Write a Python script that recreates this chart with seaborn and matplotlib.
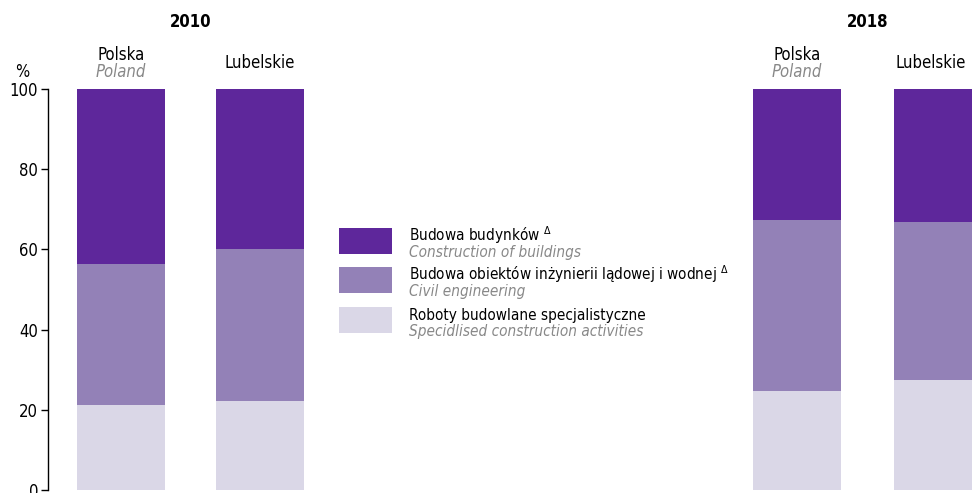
import matplotlib
matplotlib.use('Agg')
import matplotlib.pyplot as plt
import pandas as pd
import seaborn as sns
from matplotlib.patches import Rectangle

# dane (%)
regions = ['Polska', 'Lubelskie']
regions_en = ['Poland', '']
years = ['2010', '2018']
buildings_2010 = [43.6, 39.9]
civil_2010 = [35.2, 37.9]
special_2010 = [21.2, 22.2]
buildings_2018 = [32.7, 33.2]
civil_2018 = [42.6, 39.4]
special_2018 = [24.7, 27.4]

series_pl = ['Budowa budynków $^{\\Delta}$',
             'Budowa obiektów inżynierii lądowej i wodnej $^{\\Delta}$',
             'Roboty budowlane specjalistyczne']
series_en = ['Construction of buildings', 'Civil engineering',
             'Specidlised construction activities']
colors = ['#5e279b', '#9381b7', '#dad7e7']
grey = '#888888'

sns.set_theme(style='white')
plt.rcParams['font.family'] = ['DejaVu Sans']
plt.rcParams['font.stretch'] = 'condensed'
plt.rcParams['mathtext.fontset'] = 'dejavusans'
plt.rcParams['text.color'] = 'black'
plt.rcParams['ytick.color'] = 'black'

W, H = 972, 493
fig = plt.figure(figsize=(W / 100, H / 100), dpi=100)

def px(x0, x1, y0=89, y1=490):
    return [x0 / W, 1 - y1 / H, (x1 - x0) / W, (y1 - y0) / H]

ax1 = fig.add_axes(px(48, 330))
ax2 = fig.add_axes(px(700, 972))

data = {
    '2010': (buildings_2010, civil_2010, special_2010),
    '2018': (buildings_2018, civil_2018, special_2018),
}

for ax, year, xlim, width in [(ax1, '2010', (-0.525, 1.504), 0.633),
                              (ax2, '2018', (-0.688, 1.241), 0.624)]:
    b, c, s = data[year]
    df = pd.DataFrame({'region': regions, 'b': b, 'c': c, 's': s})
    df['top'] = df['s'] + df['c'] + df['b']
    df['mid'] = df['s'] + df['c']
    for col, colr in zip(['top', 'mid', 's'], colors):
        sns.barplot(data=df, x='region', y=col, color=colr, saturation=1,
                    width=width, linewidth=0, ax=ax)
    ax.set_xlim(*xlim)
    ax.set_ylim(0, 100)
    ax.set_xlabel('')
    ax.set_ylabel('')
    ax.set_xticks([])
    for sp in ['top', 'right', 'bottom']:
        ax.spines[sp].set_visible(False)
    ax.text(0.5, 116.7, year, ha='center', va='center', fontsize=12,
            fontweight='bold', clip_on=False)
    for i, (r, r_en) in enumerate(zip(regions, regions_en)):
        if r_en:
            ax.text(i, 108.6, r, ha='center', va='center', fontsize=12, clip_on=False)
            ax.text(i, 104.3, r_en, ha='center', va='center', fontsize=12,
                    style='italic', color=grey, clip_on=False)
        else:
            xi = i if year == '2010' else i - 0.05
            ax.text(xi, 106.6, r, ha='center', va='center', fontsize=12, clip_on=False)

ax1.spines['left'].set_color('black')
ax1.spines['left'].set_linewidth(1)
ax1.set_yticks(range(0, 101, 20))
ax1.tick_params(axis='y', left=True, length=5, width=1, color='black',
                labelsize=12, pad=2)
ax2.spines['left'].set_visible(False)
ax2.set_yticks([])

fig.text(22 / W, 1 - 72 / H, '%', ha='center', va='center', fontsize=12)

# legenda
for k in range(3):
    y_top = 228 + 39.3 * k
    fig.patches.append(Rectangle((339 / W, 1 - (y_top + 26) / H), 53 / W, 26 / H,
                                 transform=fig.transFigure, color=colors[k], lw=0))
    fig.text(409 / W, 1 - (y_top + 13) / H, series_pl[k], ha='left', va='baseline',
             fontsize=11)
    fig.text(409 / W, 1 - (y_top + 29) / H, series_en[k], ha='left', va='baseline',
             fontsize=11, style='italic', color=grey)

fig.savefig('out.png', dpi=100)
